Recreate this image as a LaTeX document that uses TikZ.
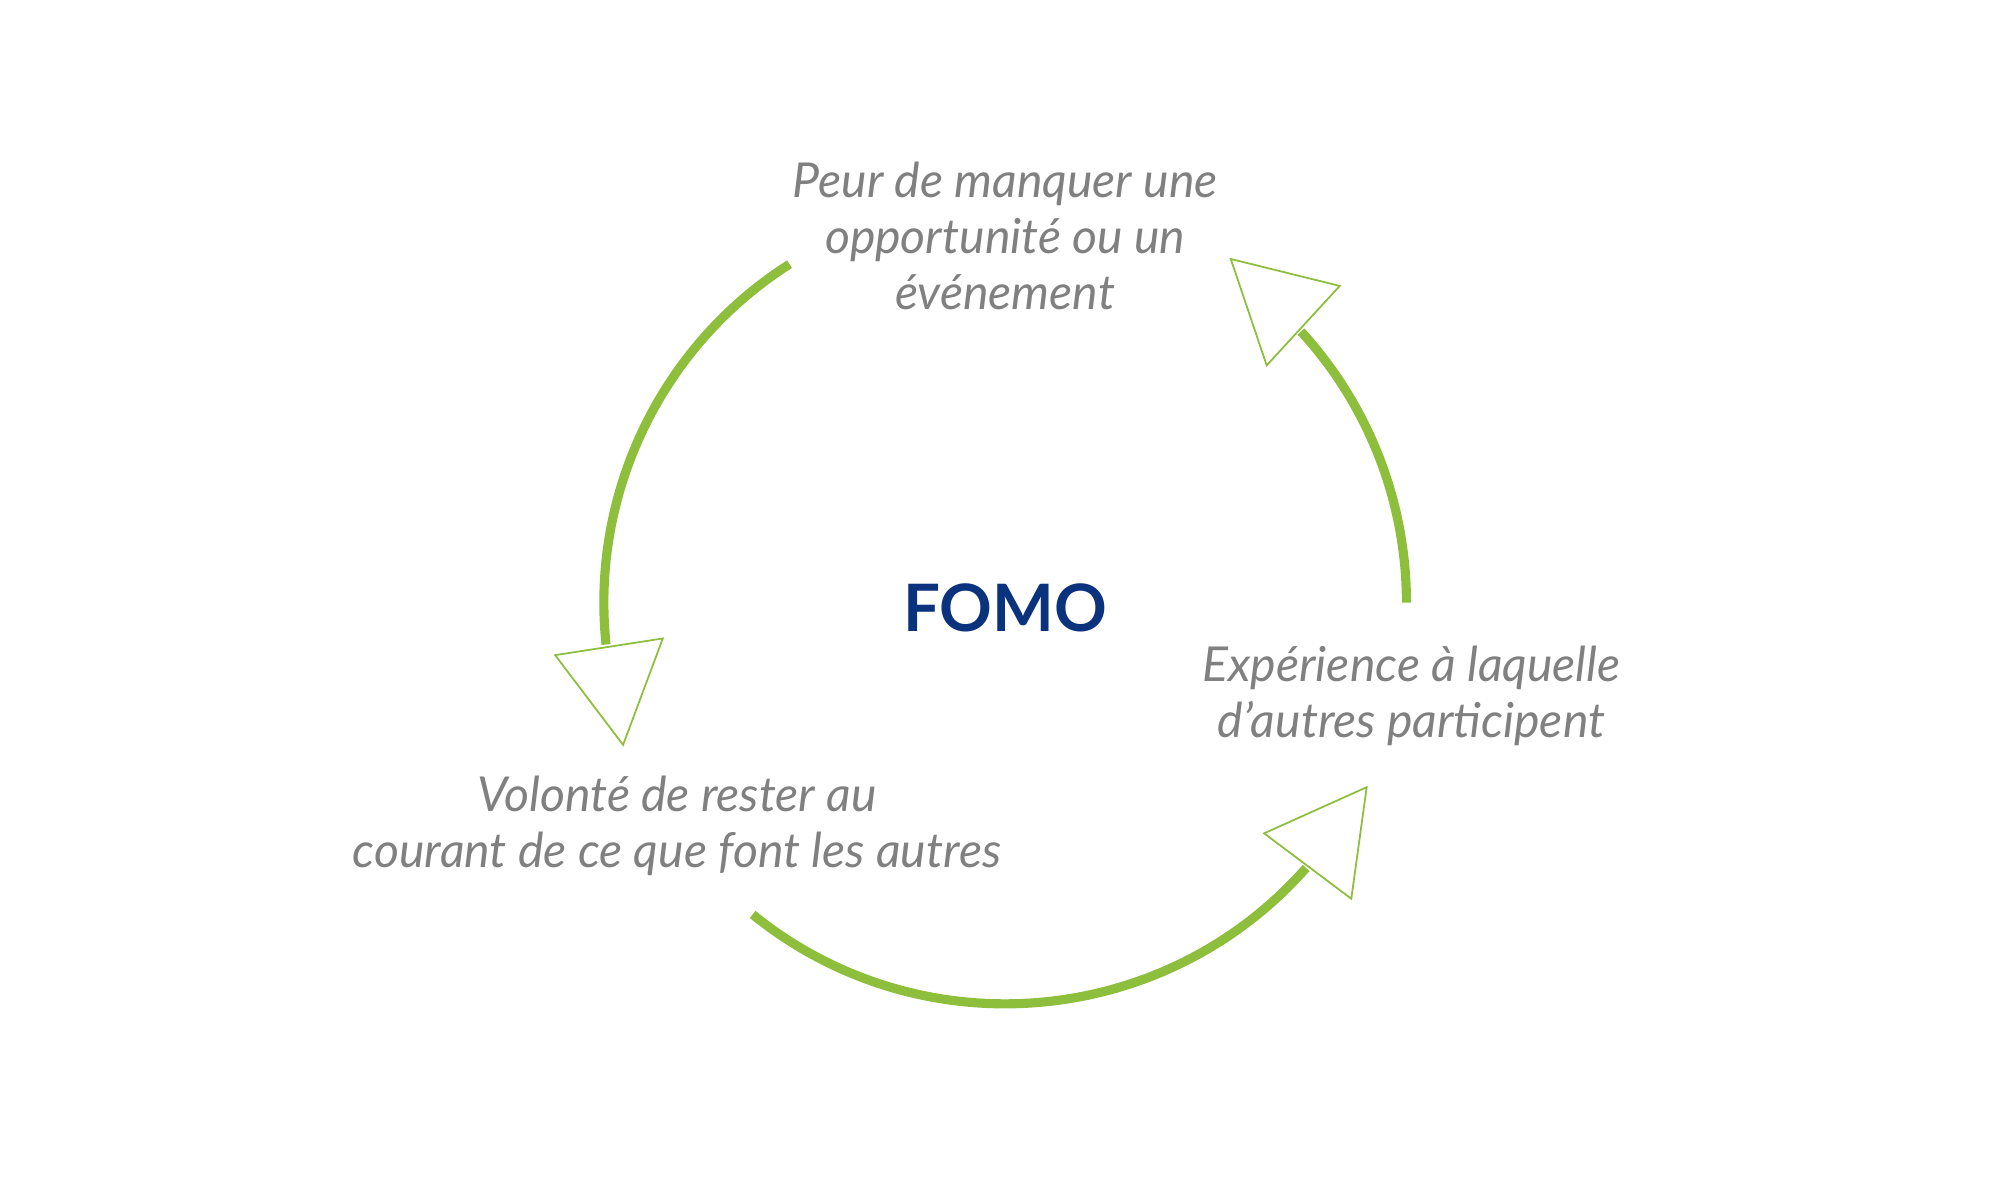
\documentclass[tikz,border=0pt]{standalone}
\usepackage{fontspec}
\setmainfont{Lato}
\definecolor{fgreen}{RGB}{141,190,60}
\definecolor{fblue}{RGB}{10,50,125}
\definecolor{fgray}{RGB}{128,128,128}
\tikzset{
  cyclearc/.style={draw=fgreen, line width=2.6pt},
  headtri/.style={draw=fgreen, line width=0.5pt, fill=white},
  steptext/.style={text=fgray, align=center, font=\fontsize{13.7}{16}\selectfont\itshape}
}
\begin{document}
\begin{tikzpicture}[x=0.01282cm, y=-0.01282cm]
\useasboundingbox (0,0) rectangle (1560,936);
% arcs of the cycle
\draw[cyclearc] (784,470) ++(-122.5:313) arc[start angle=-122.5, end angle=-186, radius=313];
\draw[cyclearc] (784,470) ++(-231:313) arc[start angle=-231, end angle=-318.6, radius=313];
\draw[cyclearc] (784,470) ++(0:313) arc[start angle=0, end angle=-42.5, radius=313];
% open arrow heads
\draw[headtri] (960,202) -- (1045,223) -- (988,285) -- cycle;
\draw[headtri] (433,511) -- (517,498) -- (486,581) -- cycle;
\draw[headtri] (986,650) -- (1066,614) -- (1054,701) -- cycle;
% texts
\node[steptext] (peur) at (784,184) {Peur de manquer une\\opportunité ou un\\événement};
\node[steptext] (exp) at (1101,543) {Expérience à laquelle\\d’autres participent};
\node[steptext] (vol) at (528,644) {Volonté de rester au\\courant de ce que font les autres};
\node[text=fblue, font=\fontsize{18.6}{22}\selectfont\bfseries] (fomo) at (784,474) {FOMO};
\end{tikzpicture}
\end{document}
